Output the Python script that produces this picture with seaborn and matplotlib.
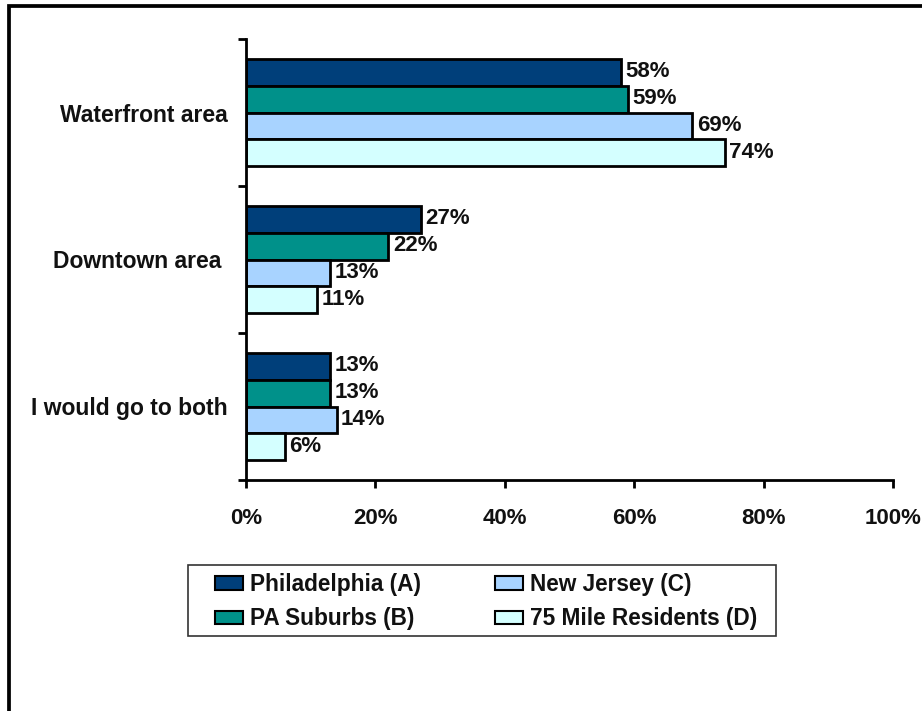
import matplotlib
matplotlib.use("Agg")
import matplotlib.pyplot as plt
from matplotlib.patches import Rectangle
from matplotlib.ticker import FixedLocator, PercentFormatter
import seaborn as sns
import pandas as pd

# Survey: preferred area, by respondent group (percent)
categories = ["Waterfront area", "Downtown area ", "I would go to both"]
groups = ["Philadelphia (A)", "PA Suburbs (B)", "New Jersey (C)", "75 Mile Residents (D)"]
philadelphia = [58, 27, 13]
pa_suburbs = [59, 22, 13]
new_jersey = [69, 13, 14]
mile75 = [74, 11, 6]
x_ticks = [0, 20, 40, 60, 80, 100]

palette = ["#003F7A", "#00918A", "#A8D3FF", "#D4FFFF"]

series = [philadelphia, pa_suburbs, new_jersey, mile75]
rows = []
for g, vals in zip(groups, series):
    for c, v in zip(categories, vals):
        rows.append({"Area": c, "Group": g, "Share": v})
df = pd.DataFrame(rows)

sns.set_style("white")
plt.rcParams["font.family"] = ["Liberation Sans", "DejaVu Sans"]
plt.rcParams["font.weight"] = "bold"

W, H = 922, 711
fig = plt.figure(figsize=(W / 100, H / 100), dpi=100)
ax = fig.add_axes([246 / W, 1 - 480 / H, (893 - 246) / W, (480 - 39) / H])

sns.barplot(data=df, y="Area", x="Share", hue="Group", order=categories,
            hue_order=groups, palette=palette, orient="h", width=0.73,
            edgecolor="black", linewidth=2, saturation=1, ax=ax, legend=True)

# value labels at the end of each bar
for container, vals in zip(ax.containers, series):
    for bar, v in zip(container, vals):
        ax.text(bar.get_width() + 0.7, bar.get_y() + bar.get_height() / 2 - 0.005,
                f"{v}%", va="center", ha="left", fontsize=16, fontweight="bold",
                color="#111111")

ax.set_xlim(0, 100)
ax.set_ylim(2.5, -0.5)
ax.set_xlabel("")
ax.set_ylabel("")
ax.xaxis.set_major_locator(FixedLocator(x_ticks))
ax.xaxis.set_major_formatter(PercentFormatter(decimals=0))

for side in ["top", "right"]:
    ax.spines[side].set_visible(False)
for side in ["left", "bottom"]:
    ax.spines[side].set_linewidth(2)
    ax.spines[side].set_color("black")

ax.yaxis.set_minor_locator(FixedLocator([-0.5, 0.5, 1.5, 2.5]))
ax.tick_params(axis="y", which="major", length=0, pad=13, labelsize=16.5,
               labelcolor="#111111")
ax.tick_params(axis="y", which="minor", left=True, length=6, width=2, color="black")
ax.tick_params(axis="x", which="major", bottom=True, length=6, width=2,
               color="black", labelsize=16, pad=14, labelcolor="#111111")
for lbl in ax.get_yticklabels() + ax.get_xticklabels():
    lbl.set_fontweight("bold")

handles, labels = ax.get_legend_handles_labels()
ax.legend_.remove()
leg = fig.legend(handles, labels, ncol=2, loc="upper left",
                 bbox_to_anchor=(215 / W, 1 - 573 / H),
                 frameon=False, fontsize=16.3, handlelength=1.24,
                 handleheight=0.53, handletextpad=0.31, columnspacing=3.26,
                 labelspacing=0.5, borderpad=0, borderaxespad=0)
for t in leg.get_texts():
    t.set_fontweight("bold")
    t.set_color("#111111")
for h in leg.legend_handles:
    h.set_linewidth(1.5)

# legend box
fig.patches.append(Rectangle((188 / W, 1 - 636 / H), (776 - 188) / W, (636 - 565) / H,
                             transform=fig.transFigure, fill=False,
                             edgecolor="#333333", linewidth=1.2))

# page frame around the chart
fig.patches.append(Rectangle((9 / W, -0.05), 1.1, 1 - 6 / H + 0.05,
                             transform=fig.transFigure, fill=False,
                             edgecolor="black", linewidth=2.7))

fig.savefig("out.png", dpi=100, facecolor="white")
